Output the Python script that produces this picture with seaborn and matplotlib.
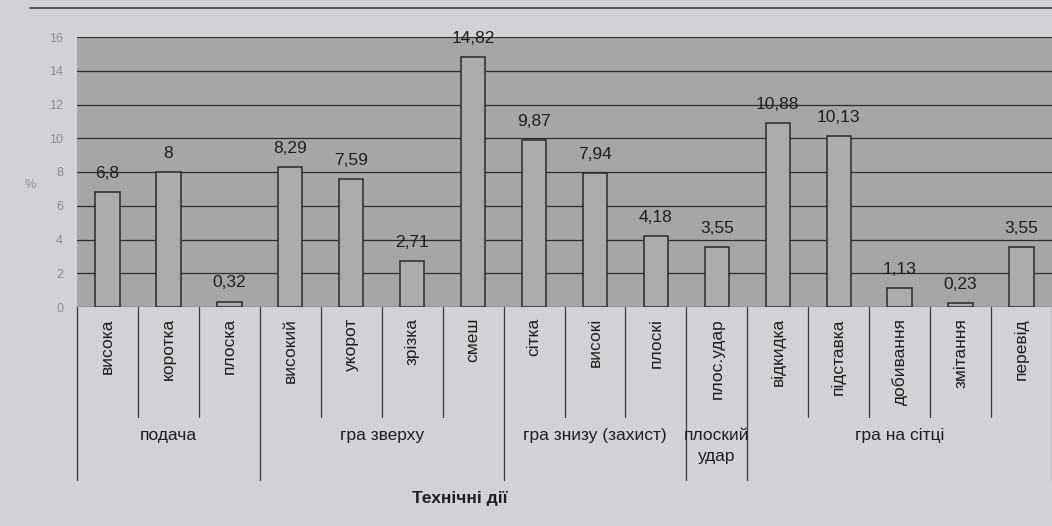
import matplotlib
matplotlib.use('Agg')
import matplotlib.pyplot as plt
import matplotlib.transforms as mtransforms
from matplotlib.lines import Line2D
import seaborn as sns
import pandas as pd

# ── Data ───────────────────────────────────────────────
actions = ['висока', 'коротка', 'плоска',
           'високий', 'укорот', 'зрізка', 'смеш',
           'сітка', 'високі', 'плоскі',
           'плос.удар',
           'відкидка', 'підставка', 'добивання', 'змітання', 'перевід']
shares = [6.8, 8, 0.32,
          8.29, 7.59, 2.71, 14.82,
          9.87, 7.94, 4.18,
          3.55,
          10.88, 10.13, 1.13, 0.23, 3.55]
groups = ['подача', 'гра зверху', 'гра знизу (захист)', 'плоский\nудар', 'гра на сітці']
group_sizes = [3, 4, 3, 1, 5]
yticks = [0, 2, 4, 6, 8, 10, 12, 14, 16]

df = pd.DataFrame({'action': actions, 'share': shares})

sns.set_theme(style='white')
plt.rcParams['font.family'] = ['Liberation Sans', 'DejaVu Sans']

W, H = 1052, 526
fig = plt.figure(figsize=(W / 100, H / 100), dpi=100)
fig.patch.set_facecolor('#d2d2d6')

# plot area: x 77..1052, y 37..307 (pixels)
ax = fig.add_axes([77 / W, 1 - 307 / H, (W - 77) / W, 270 / H])
ax.set_facecolor('#a6a6a6')

sns.barplot(data=df, x='action', y='share', ax=ax, width=0.4,
            color='#ababab', edgecolor='#2a2a2a', linewidth=1.1,
            saturation=1)

ax.set_ylim(0, 16)
ax.set_yticks(yticks)
ax.set_yticklabels([str(t) for t in yticks], color='#8c8c8c', fontsize=9)
ax.yaxis.grid(True, color='#2e2e2e', linewidth=0.9)
ax.set_axisbelow(True)
ax.tick_params(axis='both', length=0)
ax.tick_params(axis='y', pad=10)
ax.set_xlabel('')
ax.set_ylabel('')
for s in ax.spines.values():
    s.set_visible(False)

# value labels
for p, v in zip(ax.patches, shares):
    ax.annotate(f'{v:g}'.replace('.', ','),
                (p.get_x() + p.get_width() / 2, p.get_height()),
                xytext=(0, 8), textcoords='offset points',
                ha='center', va='bottom', fontsize=12.5, color='#1e1e1e')

# rotated category labels
ax.set_xticks(range(len(actions)))
ax.set_xticklabels(actions, rotation=90, fontsize=12.5, color='#1e1e1e')
ax.tick_params(axis='x', pad=8)

# separators under the axis
trans = mtransforms.blended_transform_factory(ax.transData, ax.transAxes)
cat_depth = (307 - 417) / 270
grp_depth = (307 - 480) / 270
bounds = [0]
for n in group_sizes:
    bounds.append(bounds[-1] + n)
for k in range(len(actions) + 1):
    depth = grp_depth if k in bounds else cat_depth
    ax.plot([k - 0.5, k - 0.5], [0, depth], color='#3a3a3a', lw=0.9,
            transform=trans, clip_on=False)

# group labels
for g, a, b in zip(groups, bounds[:-1], bounds[1:]):
    ax.text((a + b - 1) / 2, (307 - 428) / 270, g, transform=trans,
            ha='center', va='top', fontsize=12.5, color='#1e1e1e',
            linespacing=1.5)

ax.set_xlim(-0.5, len(actions) - 0.5)

# y-axis unit and axis title
fig.text(30 / W, 1 - 185 / H, '%', ha='center', va='center',
         fontsize=9, color='#8c8c8c')
fig.text(460 / W, 1 - 498 / H, 'Технічні дії', ha='center', va='center',
         fontsize=12.5, fontweight='bold', color='#1e1e1e')

# page rule at the top
fig.add_artist(Line2D([30 / W, 1], [1 - 8 / H, 1 - 8 / H], color='#3a3a3a',
                      lw=1.2, transform=fig.transFigure))

fig.savefig('out.png', dpi=100, facecolor=fig.get_facecolor())
